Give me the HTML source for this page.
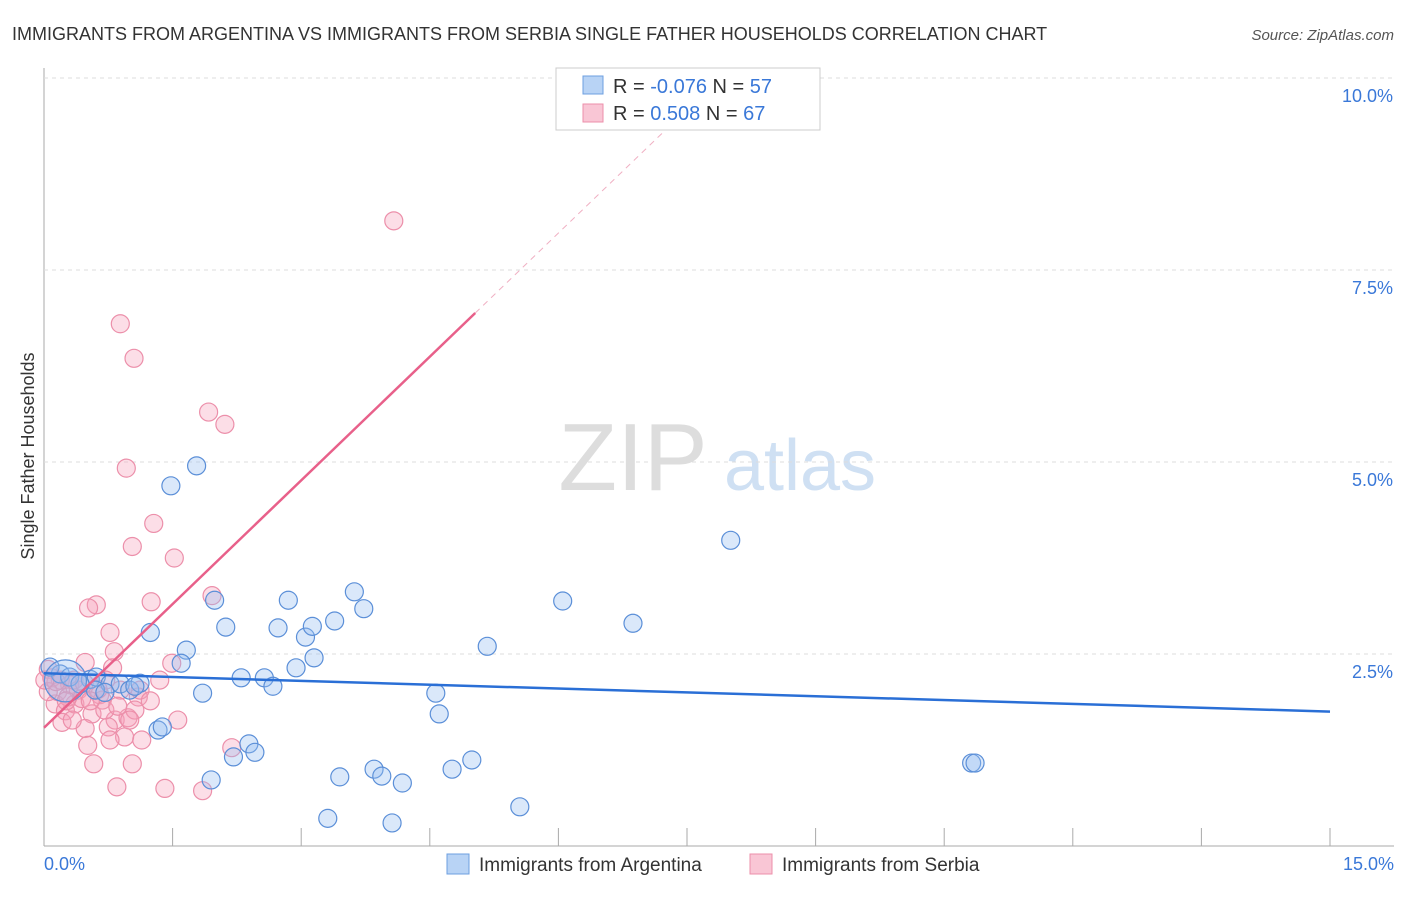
<!DOCTYPE html>
<html><head><meta charset="utf-8"><style>
body{margin:0;background:#fff;font-family:"Liberation Sans",sans-serif}
svg text{font-family:"Liberation Sans",sans-serif}
</style></head><body>
<svg width="1406" height="892" id="c">
<text x="12" y="40" font-size="18" fill="#333">IMMIGRANTS FROM ARGENTINA VS IMMIGRANTS FROM SERBIA SINGLE FATHER HOUSEHOLDS CORRELATION CHART</text>
<text x="1394" y="40" font-size="15" fill="#555" text-anchor="end" font-style="italic">Source: ZipAtlas.com</text>
<text x="633" y="490" font-size="96" fill="#ddd" font-family="Liberation Serif" text-anchor="middle">ZIP</text>
<text x="800" y="490" font-size="72" fill="#cfe0f3" text-anchor="middle">atlas</text>
<text transform="translate(34,456) rotate(-90)" font-size="18" fill="#333" text-anchor="middle">Single Father Households</text>
<g id="grid"></g><g id="marks"></g>
<rect x="556" y="68" width="264" height="62" fill="#fff" stroke="#ccc"/>
<rect x="583" y="76" width="20" height="18" fill="#b8d3f5" stroke="#6d9fe0"/>
<rect x="583" y="104" width="20" height="18" fill="#f9c6d5" stroke="#ec8faa"/>
<text x="613" y="93" font-size="20" fill="#333">R = <tspan fill="#3a78d8">-0.076</tspan>   N = <tspan fill="#3a78d8">57</tspan></text>
<text x="613" y="120" font-size="20" fill="#333">R =  <tspan fill="#3a78d8">0.508</tspan>   N = <tspan fill="#3a78d8">67</tspan></text>
<rect x="447" y="854" width="22" height="20" fill="#b8d3f5" stroke="#6d9fe0"/>
<text x="479" y="871" font-size="19" fill="#333">Immigrants from Argentina</text>
<rect x="750" y="854" width="22" height="20" fill="#f9c6d5" stroke="#ec8faa"/>
<text x="782" y="871" font-size="19" fill="#333">Immigrants from Serbia</text>
</svg>
<script>
const yTicks=[2.5,5,7.5,10];
const yTickLabels=["2.5%","5.0%","7.5%","10.0%"];
const xTickCount=10;
const blueX=[1.24,1.48,1.78,1.66,1.6,1.85,1.99,2.12,2.3,2.57,2.67,2.73,2.85,3.05,3.13,3.15,2.94,3.39,3.62,3.73,5.17,6.05,6.87,8.01,4.57,4.61,10.82,10.86,2.39,2.46,2.21,1.95,1.33,1.38,3.45,3.85,3.94,4.18,4.76,4.99,5.55,3.31,4.06,0.19,0.3,0.54,0.61,0.77,0.89,1.0,1.12,0.6,0.42,0.07,0.25,0.71,1.06];
const blueY=[2.78,4.69,4.95,2.55,2.38,1.99,3.2,2.85,2.19,2.19,2.08,2.84,3.2,2.72,2.86,2.45,2.32,2.93,3.31,3.09,2.6,3.19,2.9,3.98,1.99,1.72,1.08,1.08,1.33,1.22,1.16,0.86,1.51,1.55,0.9,1.0,0.91,0.82,1.0,1.12,0.51,0.36,0.3,2.24,2.2,2.17,2.2,2.11,2.11,2.03,2.12,2.03,2.11,2.33,2.15,2.0,2.08];
const blueR=[10,10,10,10,10,10,10,10,10,10,10,10,10,10,10,10,10,10,10,10,10,10,10,10,10,10,10,10,10,10,10,10,10,10,10,10,10,10,10,10,10,10,10,10,10,10,10,10,10,10,10,10,10,10,22,10,10];
const pinkX=[4.08,0.89,1.05,1.92,2.11,0.96,1.28,1.03,1.52,1.96,1.25,0.61,0.52,0.77,0.82,0.48,1.49,0.8,0.09,0.19,0.3,0.40,0.65,0.89,1.1,0.13,0.25,0.36,0.56,0.68,0.83,0.98,0.48,0.75,0.94,1.14,1.56,2.19,0.51,0.58,1.03,0.85,1.41,1.85,0.05,0.16,0.28,0.44,0.63,0.21,0.33,0.71,1.06,1.12,0.05,0.14,0.26,0.86,1.0,0.01,0.35,0.47,0.72,0.77,0.54,1.24,1.35];
const pinkY=[8.14,6.8,6.35,5.65,5.49,4.92,4.2,3.9,3.75,3.26,3.18,3.14,3.1,2.78,2.53,2.39,2.38,2.32,2.19,2.16,2.1,2.03,1.97,2.03,1.94,1.85,1.76,1.85,1.72,1.9,1.64,1.67,1.53,1.55,1.42,1.38,1.64,1.28,1.31,1.07,1.07,0.77,0.75,0.72,2.3,2.01,1.94,1.92,2.04,1.61,1.64,1.77,1.77,2.03,2.01,2.14,1.89,1.82,1.64,2.16,2.16,2.12,2.16,1.38,1.89,1.89,2.16];
const blueTrend=[2.25,1.75];
const pinkTrend=[1.54,6.94,5.03];
const X=v=>44+v/15*1286, Y=v=>846-v/2.5*192;
const NS="http://www.w3.org/2000/svg";
function mk(t,a,p){const e=document.createElementNS(NS,t);for(const k in a)e.setAttribute(k,a[k]);p.appendChild(e);return e;}
const g=document.getElementById('grid'),m=document.getElementById('marks');
mk('line',{x1:44,y1:68,x2:44,y2:846,stroke:'#aaa'},g);
mk('line',{x1:44,y1:846,x2:1394,y2:846,stroke:'#aaa'},g);
yTicks.forEach((t,i)=>{
 const l=mk('line',{x1:44,y1:Y(t),x2:1394,y2:Y(t),stroke:'#ddd','stroke-dasharray':'4,4'},g);
 
 
 const tx=mk('text',{x:1393,y:Y(t)+24,'font-size':18,fill:'#3a78d8','text-anchor':'end'},g);
 tx.textContent=yTickLabels[i];
 
 
});
for(let i=1;i<=xTickCount;i++){
 const l=mk('line',{x1:X(i*1.5),y1:828,x2:X(i*1.5),y2:846,stroke:'#aaa'},g);
 
 
}
let t=mk('text',{x:44,y:870,'font-size':18,fill:'#3a78d8'},g);t.textContent='0.0%';


t=mk('text',{x:1394,y:870,'font-size':18,fill:'#3a78d8','text-anchor':'end'},g);t.textContent='15.0%';


pinkX.forEach((x,i)=>{
 const c=mk('circle',{cx:X(x),cy:Y(pinkY[i]),r:9,fill:'rgba(245,160,185,0.35)',stroke:'#ec8faa','stroke-width':1.2},m);
 
 
});
blueX.forEach((x,i)=>{
 const c=mk('circle',{cx:X(x),cy:Y(blueY[i]),r:blueR[i]-1,fill:'rgba(150,190,240,0.35)',stroke:'#5b8fd8','stroke-width':1.2},m);
 
 
});
let l=mk('line',{x1:X(0),y1:Y(blueTrend[0]),x2:X(15),y2:Y(blueTrend[1]),stroke:'#2a6fd6','stroke-width':2.5},m);


const slope=(pinkTrend[1]-pinkTrend[0])/pinkTrend[2];
l=mk('line',{x1:X(0),y1:Y(pinkTrend[0]),x2:X(pinkTrend[2]),y2:Y(pinkTrend[1]),stroke:'#e8608a','stroke-width':2.5},m);


l=mk('line',{x1:X(pinkTrend[2]),y1:Y(pinkTrend[1]),x2:X(7.5),y2:Y(pinkTrend[0]+slope*7.5),stroke:'#f0b0c3','stroke-width':1,'stroke-dasharray':'6,5'},m);


</script>
</body></html>
